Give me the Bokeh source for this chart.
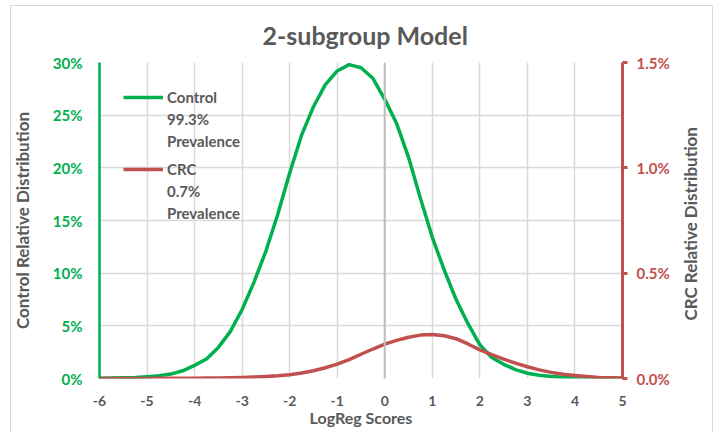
import numpy as np
from bokeh.plotting import figure
from bokeh.models import (Range1d, LinearAxis, FixedTicker, PrintfTickFormatter,
                          Span, Legend, LegendItem, ColumnDataSource)
from bokeh.embed import file_html
from bokeh.resources import INLINE

# ---- data ----
scores = [-6.0, -5.75, -5.5, -5.25, -5.0, -4.75, -4.5, -4.25, -4.0, -3.75, -3.5, -3.25,
          -3.0, -2.75, -2.5, -2.25, -2.0, -1.75, -1.5, -1.25, -1.0, -0.75, -0.5, -0.25,
          0.0, 0.25, 0.5, 0.75, 1.0, 1.25, 1.5, 1.75, 2.0, 2.25, 2.5, 2.75,
          3.0, 3.25, 3.5, 3.75, 4.0, 4.25, 4.5, 4.75, 5.0]
control_pct = [0.03, 0.04, 0.065, 0.10, 0.17, 0.26, 0.42, 0.73, 1.25, 1.85, 2.95, 4.45,
               6.55, 9.15, 12.1, 15.6, 19.5, 23.1, 25.8, 27.9, 29.2, 29.8, 29.5, 28.5,
               26.5, 24.2, 21.0, 17.1, 13.4, 10.3, 7.5, 5.2, 3.2, 2.0, 1.35, 0.85,
               0.5, 0.3, 0.2, 0.12, 0.08, 0.05, 0.03, 0.02, 0.01]
crc_pct = [0.0002, 0.0002, 0.0003, 0.0004, 0.0005, 0.0006, 0.0008, 0.001, 0.0013, 0.0018,
           0.0025, 0.0035, 0.005, 0.007, 0.0095, 0.013, 0.018, 0.026, 0.037, 0.051,
           0.068, 0.09, 0.115, 0.14, 0.163, 0.181, 0.196, 0.206, 0.209, 0.203,
           0.189, 0.164, 0.136, 0.113, 0.092, 0.073, 0.056, 0.041, 0.029, 0.020,
           0.014, 0.009, 0.005, 0.003, 0.002]
x_ticks = [-6, -5, -4, -3, -2, -1, 0, 1, 2, 3, 4, 5]
left_ticks = [0, 5, 10, 15, 20, 25, 30]
right_ticks = [0.0, 0.5, 1.0, 1.5]
control_lines = ["Control", "99.3%", "Prevalence"]
crc_lines = ["CRC", "0.7%", "Prevalence"]
left_title = "Control Relative Distribution"
right_title = "CRC Relative Distribution"
x_title = "LogReg Scores"

GREEN = "#00B050"
RED = "#C0504D"
GRAY = "#595959"
GRID = "#D9D9D9"
FONT = "Lato"

# light chart-area border (left, top, right edges), painted behind a transparent canvas
_ln = "linear-gradient(#D9D9D9,#D9D9D9)"
chart_border = (f"{_ln} 10px 5px / 1px 100% no-repeat, "
                f"{_ln} 10px 5px / 703px 1px no-repeat, "
                f"{_ln} 712px 5px / 1px 100% no-repeat, white")

p = figure(width=715, height=432, output_backend="svg", toolbar_location=None,
           x_range=Range1d(-6, 5), y_range=Range1d(0, 30),
           min_border_left=99, min_border_right=93, min_border_top=62, min_border_bottom=54)
p.outline_line_color = None
p.background_fill_color = "white"
p.border_fill_color = None
p.styles = {"background": chart_border}

p.title.text = "2-subgroup Model"
p.title.align = "left"
p.title.offset = 163
p.title.standoff = 25
p.title.text_font = FONT
p.title.text_font_style = "bold"
p.title.text_font_size = "25px"
p.title.text_color = GRAY

p.extra_y_ranges = {"crc": Range1d(0, 1.5)}

# grids
p.xgrid.ticker = FixedTicker(ticks=x_ticks)
p.ygrid.ticker = FixedTicker(ticks=left_ticks)
p.xgrid.grid_line_color = GRID
p.ygrid.grid_line_color = GRID
p.xgrid.grid_line_width = 1.5
p.ygrid.grid_line_width = 1.5
p.add_layout(Span(location=0, dimension="height", line_color="#BFBFBF", line_width=2))

axis_title = dict(axis_label_text_font=FONT, axis_label_text_font_style="bold",
                  axis_label_text_font_size="17px", axis_label_text_color=GRAY)

# x axis
xa = p.xaxis[0]
xa.ticker = FixedTicker(ticks=x_ticks)
xa.formatter = PrintfTickFormatter(format="%d")
xa.axis_line_color = None
xa.major_tick_line_color = None
xa.minor_tick_line_color = None
xa.major_tick_out = 0
xa.major_tick_in = 0
xa.major_label_standoff = 17
xa.major_label_text_font = FONT
xa.major_label_text_font_style = "bold"
xa.major_label_text_font_size = "14px"
xa.major_label_text_color = GRAY
xa.axis_label = x_title
xa.axis_label_standoff = -1
xa.update(**axis_title)
xa.axis_label_text_font_size = "16px"

# left axis
ya = p.yaxis[0]
ya.ticker = FixedTicker(ticks=left_ticks)
ya.formatter = PrintfTickFormatter(format="%d%%")
ya.axis_line_color = GREEN
ya.axis_line_width = 2.5
ya.major_tick_line_color = None
ya.minor_tick_line_color = None
ya.major_tick_out = 0
ya.major_tick_in = 0
ya.major_label_standoff = 17
ya.major_label_text_font = FONT
ya.major_label_text_font_style = "bold"
ya.major_label_text_font_size = "15px"
ya.major_label_text_color = GREEN
ya.axis_label = left_title
ya.axis_label_standoff = 17
ya.update(**axis_title)

# right axis (ticks and labels)
ra = LinearAxis(y_range_name="crc", ticker=FixedTicker(ticks=right_ticks),
                formatter=PrintfTickFormatter(format="%.1f%%"))
ra.axis_line_color = RED
ra.axis_line_width = 3
ra.major_tick_line_color = RED
ra.major_tick_line_width = 3
ra.major_tick_out = 5
ra.major_tick_in = 0
ra.minor_tick_line_color = None
ra.major_label_standoff = 9
ra.major_label_text_font = FONT
ra.major_label_text_font_style = "bold"
ra.major_label_text_font_size = "15px"
ra.major_label_text_color = RED
p.add_layout(ra, "right")

# right axis title, reading bottom-to-top: a bare axis with one rotated label
title_pos = 0.275
rt = LinearAxis(y_range_name="crc", ticker=FixedTicker(ticks=[title_pos]),
                major_label_overrides={title_pos: right_title})
rt.axis_line_color = None
rt.major_tick_line_color = None
rt.minor_tick_line_color = None
rt.major_tick_out = 0
rt.major_tick_in = 0
rt.major_label_standoff = 18
rt.major_label_orientation = np.pi / 2
rt.major_label_text_font = FONT
rt.major_label_text_font_style = "bold"
rt.major_label_text_font_size = "17px"
rt.major_label_text_color = GRAY
p.add_layout(rt, "right")

src = ColumnDataSource(dict(x=scores, control=control_pct, crc=crc_pct))
g = p.line("x", "control", source=src, line_color=GREEN, line_width=3.5, line_join="round")
r = p.line("x", "crc", source=src, y_range_name="crc", line_color=RED, line_width=3.5,
           line_join="round")
# invisible stand-ins for the extra legend text lines
blank = p.line(x=[], y=[], line_alpha=0)

leg_style = dict(padding=0, margin=0, spacing=0, glyph_width=40, glyph_height=22,
                 label_height=22, label_standoff=4,
                 label_text_font=FONT, label_text_font_style="bold",
                 label_text_font_size="15px", label_text_color=GRAY,
                 background_fill_alpha=0, border_line_color=None)

leg1 = Legend(items=[LegendItem(label=control_lines[0], renderers=[g]),
                     LegendItem(label=control_lines[1], renderers=[blank]),
                     LegendItem(label=control_lines[2], renderers=[blank])],
              location=(24, 226), **leg_style)
leg2 = Legend(items=[LegendItem(label=crc_lines[0], renderers=[r]),
                     LegendItem(label=crc_lines[1], renderers=[blank]),
                     LegendItem(label=crc_lines[2], renderers=[blank])],
              location=(24, 154), **leg_style)
p.add_layout(leg1)
p.add_layout(leg2)

open("out.html", "w").write(file_html(p, INLINE))
